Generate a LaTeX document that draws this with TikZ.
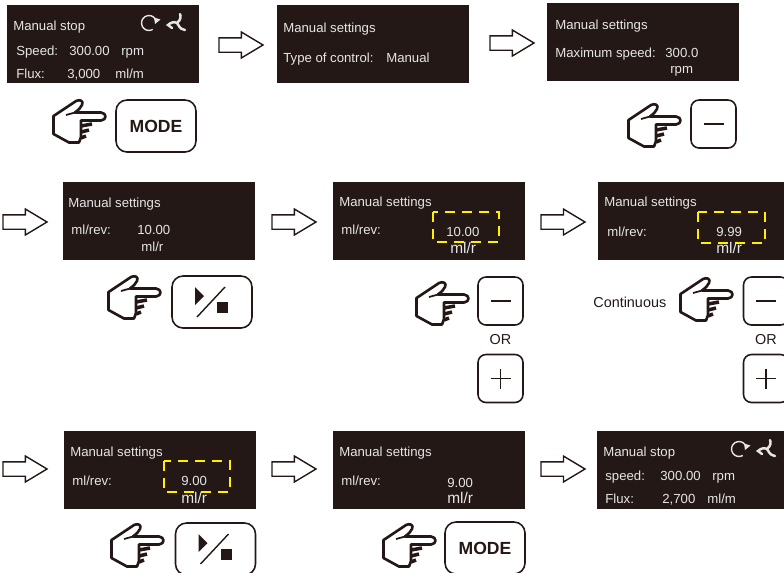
\documentclass[tikz,border=0pt]{standalone}
\usepackage{fontspec}
\setmainfont{Liberation Sans}
\usetikzlibrary{shapes.arrows}
\definecolor{lcdblack}{HTML}{231815}
\definecolor{lcdtext}{HTML}{E6E6E6}
\definecolor{dashyellow}{HTML}{FFF000}
\tikzset{
	screen/.style={fill=lcdblack,minimum width=3.84cm,minimum height=1.56cm,anchor=north west,inner sep=0,outer sep=0},
	lcd/.style={text=lcdtext,font=\fontsize{7.5}{9}\selectfont,anchor=base west,inner sep=0},
	bigunit/.style={lcd,font=\fontsize{8.8}{10}\selectfont},
	blockarrow/.style={draw=lcdblack,line width=0.8pt,single arrow,single arrow tip angle=62,single arrow head extend=0.115cm,inner xsep=0,inner ysep=0.13cm,minimum height=0.88cm,anchor=tip,outer sep=0},
	widebutton/.style={draw=lcdblack,line width=0.9pt,rounded corners=0.22cm,minimum width=1.6cm,minimum height=1.04cm,inner sep=0,font=\fontsize{10}{12}\selectfont\bfseries,text=lcdblack},
	smallbutton/.style={draw=lcdblack,line width=0.9pt,rounded corners=0.16cm,minimum width=0.9cm,minimum height=0.96cm,inner sep=0},
	plain/.style={text=lcdblack,font=\fontsize{8.2}{10}\selectfont,inner sep=0},
	editbox/.style={draw=dashyellow,line width=1.1pt,dash pattern=on 5.5pt off 4.2pt},
	hand/.pic={
		\draw[lcdblack,line width=1.5pt,line join=round] (1.5,17) -- (24,2) .. controls (28,0) and (32,2) .. (30,6) .. controls (29,9) and (26,11) .. (23,13.5) -- (49,13.5) .. controls (55,14) and (55,21) .. (49,21.5) -- (29,21.5) -- (29,38) -- (27,43.5) -- (17,43.5) -- (1.5,35) -- cycle;
		\draw[lcdblack,line width=1pt] (14,16) -- (23,13.5);
		\draw[lcdblack,line width=2pt] (29,27) -- (40,25);
		\draw[lcdblack,line width=2pt] (29,33) -- (37,31);
		\draw[lcdblack,line width=2pt] (29,39) -- (34,37);
	},
	statusicons/.pic={
		\draw[lcdtext,line width=0.8pt] (60:7.5) arc (60:330:7.5);
		\fill[lcdtext] (11.5,-3.5) -- (5,-5.5) -- (6,1) -- cycle;
		\draw[lcdtext,line width=1.4pt,line cap=round] (28,0) .. controls (32,-3) and (32,-7) .. (31,-9);
		\draw[lcdtext,line width=1.4pt,line cap=round] (28,0) .. controls (25,-2) and (21,0) .. (19,2) .. controls (20,3) and (22,4) .. (23,5);
		\draw[lcdtext,line width=1.4pt,line cap=round] (28,0) .. controls (30,2) and (30,6) .. (36,7);
	},
	playstop/.pic={
		\fill[lcdblack] (-17,-15) -- (-8,-6) -- (-17,3) -- cycle;
		\draw[lcdblack,line width=0.8pt] (-15,15) -- (13,-15);
		\fill[lcdblack] (5,0) rectangle (16,11);
	},
	minussign/.pic={
		\draw[lcdblack,line width=0.6pt] (-10,0) -- (10,0);
	},
	plussign/.pic={
		\draw[lcdblack,line width=0.6pt] (-10,0) -- (10,0);
		\draw[lcdblack,line width=0.6pt] (0,-10) -- (0,10);
	},
}
\begin{document}
\begin{tikzpicture}[x=0.02cm,y=-0.02cm]
	\useasboundingbox (0,0) rectangle (784,572);
	\clip (0,0) rectangle (784,572);

	% first row
	\node[screen] (screenA) at (7,5) {};
	\node[lcd] (stopA) at (13,30) {Manual stop};
	\node[lcd] (speedA) at (16,55) {Speed:};
	\node[lcd] (speedvalA) at (69,55) {300.00};
	\node[lcd] (rpmA) at (121,55) {rpm};
	\node[lcd] (fluxA) at (16,78) {Flux:};
	\node[lcd] (fluxvalA) at (67,78) {3,000};
	\node[lcd] (mlmA) at (115,78) {ml/m};
	\pic at (149,23) {statusicons};

	\node[blockarrow] (arrowA) at (263,45) {};

	\node[screen] (screenB) at (277,5) {};
	\node[lcd] (titleB) at (283,32) {Manual settings};
	\node[lcd] (typeB) at (283,62) {Type of control:};
	\node[lcd] (manualB) at (386,62) {Manual};

	\node[blockarrow] (arrowB) at (534,43) {};

	\node[screen] (screenC) at (547,3) {};
	\node[lcd] (titleC) at (555,29) {Manual settings};
	\node[lcd] (maxC) at (555,57) {Maximum speed:};
	\node[lcd] (maxvalC) at (665,57) {300.0};
	\node[lcd] (rpmC) at (670,73) {rpm};

	\pic at (52,99) {hand};
	\node[widebutton] (modeA) at (156,126) {MODE};
	\pic at (627,103) {hand};
	\node[smallbutton] (minusA) at (713.5,124) {};
	\pic at (minusA.center) {minussign};

	% second row
	\node[blockarrow] (arrowC) at (47,222) {};

	\node[screen] (screenD) at (63,182) {};
	\node[lcd] (titleD) at (68,207) {Manual settings};
	\node[lcd] (mlD) at (71,234) {ml/rev:};
	\node[lcd] (valD) at (137,234) {10.00};
	\node[lcd] (unitD) at (141,251) {ml/r};

	\node[blockarrow] (arrowD) at (316,222) {};

	\node[screen] (screenE) at (333,182) {};
	\node[lcd] (titleE) at (339,206) {Manual settings};
	\node[lcd] (mlE) at (341,234) {ml/rev:};
	\node[lcd] (valE) at (446,236) {10.00};
	\node[bigunit] (unitE) at (450,253) {ml/r};
	\draw[editbox] (433,212) rectangle (499,242);

	\node[blockarrow] (arrowE) at (585,222) {};

	\node[screen] (screenF) at (598,182) {};
	\node[lcd] (titleF) at (604,206) {Manual settings};
	\node[lcd] (mlF) at (607,236) {ml/rev:};
	\node[lcd] (valF) at (716,236) {9.99};
	\node[bigunit] (unitF) at (716,253) {ml/r};
	\draw[editbox] (698,212) rectangle (765,243);

	\pic at (107,275) {hand};
	\node[widebutton] (playA) at (212,302) {};
	\pic at (playA.center) {playstop};

	\pic at (415,281) {hand};
	\node[smallbutton] (minusB) at (500.5,301) {};
	\pic at (minusB.center) {minussign};
	\node[plain] (orA) at (500.5,340) {OR};
	\node[smallbutton] (plusA) at (500.5,378.5) {};
	\pic at (plusA.center) {plussign};

	\node[plain,anchor=base west] (contA) at (593,307) {Continuous};
	\pic at (679,277) {hand};
	\node[smallbutton] (minusC) at (766,301) {};
	\pic at (minusC.center) {minussign};
	\node[plain] (orB) at (766,340) {OR};
	\node[smallbutton] (plusB) at (766,378.5) {};
	\pic at (plusB.center) {plussign};

	% third row
	\node[blockarrow] (arrowF) at (47,469) {};

	\node[screen] (screenG) at (64,431) {};
	\node[lcd] (titleG) at (70,456) {Manual settings};
	\node[lcd] (mlG) at (72,485) {ml/rev:};
	\node[lcd] (valG) at (181,485) {9.00};
	\node[bigunit] (unitG) at (181,503) {ml/r};
	\draw[editbox] (164,461) rectangle (230,492);

	\node[blockarrow] (arrowG) at (316,469) {};

	\node[screen] (screenH) at (333,431) {};
	\node[lcd] (titleH) at (339,456) {Manual settings};
	\node[lcd] (mlH) at (341,485) {ml/rev:};
	\node[lcd] (valH) at (447,487) {9.00};
	\node[bigunit] (unitH) at (447,503) {ml/r};

	\node[blockarrow] (arrowH) at (585,469) {};

	\node[screen] (screenI) at (597,431) {};
	\node[lcd] (stopI) at (603,456) {Manual stop};
	\node[lcd] (speedI) at (605,480) {speed:};
	\node[lcd] (speedvalI) at (660,480) {300.00};
	\node[lcd] (rpmI) at (712,480) {rpm};
	\node[lcd] (fluxI) at (605,503) {Flux:};
	\node[lcd] (fluxvalI) at (662,503) {2,700};
	\node[lcd] (mlmI) at (707,503) {ml/m};
	\pic at (739,449) {statusicons};

	\pic at (110,523) {hand};
	\node[widebutton] (playB) at (215.5,549) {};
	\pic at (playB.center) {playstop};

	\pic at (382,523) {hand};
	\node[widebutton] (modeB) at (485,548) {MODE};
\end{tikzpicture}
\end{document}
